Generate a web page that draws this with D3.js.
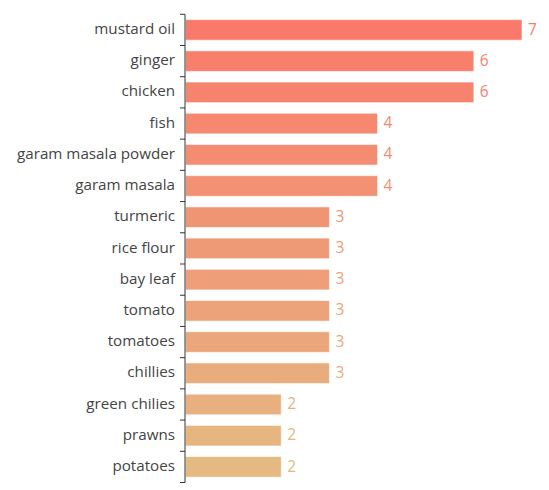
<!DOCTYPE html>
<html><head><meta charset="utf-8">
<script src="https://cdn.jsdelivr.net/npm/d3@7"></script>
<style>body{margin:0;background:#fff}</style>
</head><body><svg id="c" width="549" height="490"></svg>
<script>
const categories = ["mustard oil","ginger","chicken","fish","garam masala powder","garam masala","turmeric","rice flour","bay leaf","tomato","tomatoes","chillies","green chilies","prawns","potatoes"];
const values = [7,6,6,4,4,4,3,3,3,3,3,3,2,2,2];
const colorStart = "#f97a6a", colorEnd = "#e5b982";

(function(){
const svg = d3.select("#c");
const L = 185, T = 14.3, B = 482.5, R = 522;
const x = d3.scaleLinear().domain([0,7]).range([L,R]);
const y = d3.scaleBand().domain(categories).range([T,B]).paddingInner(0.34).paddingOuter(0.17);
const yb = d3.scaleBand().domain(categories).range([T,B]);
const col = i => d3.interpolateRgb(colorStart,colorEnd)(i/(categories.length-1));
const font = "'Open Sans','Noto Sans',sans-serif";

svg.selectAll("rect.bar").data(categories).join("rect")
  .attr("x", x(0)+0.5).attr("y", d=>y(d))
  .attr("width", (d,i)=>x(values[i])-x(0)-0.5).attr("height", y.bandwidth())
  .attr("fill",(d,i)=>col(i))
  .attr("stroke","rgba(255,255,255,0.6)").attr("stroke-width",1);

svg.selectAll("text.val").data(categories).join("text")
  .attr("x",(d,i)=>x(values[i])+6).attr("y",d=>y(d)+y.bandwidth()/2)
  .attr("dy","0.3em").attr("font-family",font).attr("font-size",15.5)
  .attr("fill",(d,i)=>col(i)).text((d,i)=>values[i]);

const g = svg.append("g");
g.append("line").attr("x1",L).attr("x2",L).attr("y1",T).attr("y2",B).attr("stroke","#333");
const ticks = categories.map(d=>yb(d)).concat([B]);
g.selectAll("line.t").data(ticks).join("line").attr("class","t")
  .attr("x1",L-5).attr("x2",L).attr("y1",d=>d).attr("y2",d=>d).attr("stroke","#333");
g.selectAll("text.lab").data(categories).join("text")
  .attr("x",L-10).attr("y",d=>yb(d)+yb.bandwidth()/2).attr("dy","0.27em")
  .attr("text-anchor","end").attr("font-family",font).attr("font-size",15.2)
  .attr("fill","#444").text(d=>d);
})();
</script></body></html>
